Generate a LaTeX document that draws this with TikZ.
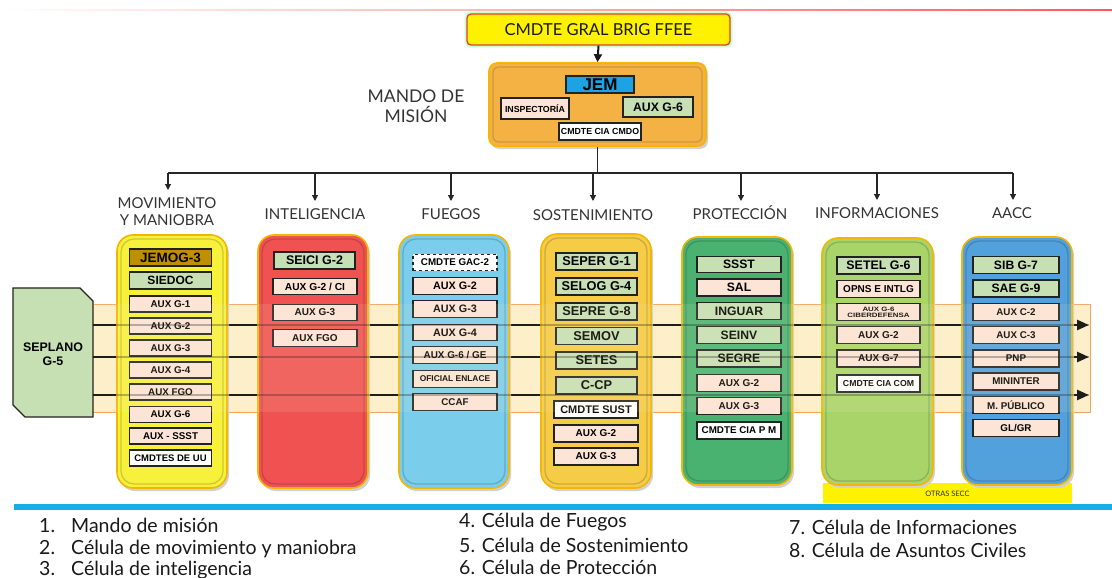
\documentclass[tikz,border=0pt]{standalone}
\usepackage{fontspec}
\setmainfont{Liberation Sans}
\newfontfamily\headfont{Lato}
\newfontfamily\legfont{Lato}
\usetikzlibrary{arrows.meta,shadings}
\definecolor{colborder}{HTML}{F2B705}
\definecolor{cyel}{HTML}{F7F13C}
\definecolor{cred}{HTML}{F05252}
\definecolor{clblue}{HTML}{7ACDEB}
\definecolor{cgold}{HTML}{F6CB45}
\definecolor{cgreen}{HTML}{4AB271}
\definecolor{clgreen}{HTML}{A9D46A}
\definecolor{cblue}{HTML}{52A0DC}
\definecolor{mandofill}{HTML}{F4B244}
\definecolor{gfill}{HTML}{C6E0B4}
\definecolor{pfill}{HTML}{FCE4D6}
\definecolor{jemfill}{HTML}{1BA3E3}
\definecolor{jemogfill}{HTML}{BF8F00}
\definecolor{bandfill}{HTML}{FDEFC9}
\definecolor{bandline}{HTML}{F7A35C}
\definecolor{headcol}{HTML}{333333}
\definecolor{bluebar}{HTML}{17ADE8}
\definecolor{boxline}{HTML}{222222}
\newcommand\fs[1]{\fontsize{#1}{#1}\selectfont\bfseries}
\newcommand\drawcol[5]{%
  \fill[black!18, rounded corners=16pt] (#1+2,#2+3) rectangle (#3+2,#4+3);
  \draw[rounded corners=16pt, draw=colborder, line width=1.6pt, fill=#5] (#1,#2) rectangle (#3,#4);
  \draw[rounded corners=13pt, draw=#5!70!black, line width=1.3pt, opacity=0.55] (#1+4,#2+4) rectangle (#3-4,#4-4);
}
\tikzset{
  bx/.style={draw=boxline, line width=1.1pt, inner sep=0pt, align=center, text=black},
  gb/.style={bx, fill=gfill},
  pb/.style={bx, fill=pfill},
  wb/.style={bx, fill=white},
  head/.style={font=\headfont\fontsize{15}{17}\selectfont, text=headcol, align=center, inner sep=0pt},
  leg/.style={font=\legfont\fontsize{19.5}{21}\selectfont, text=black!90, anchor=west, inner sep=0pt},
  arr/.style={-{Triangle[length=6pt,width=6pt]}, line width=1.1pt, black!85},
  toparr/.style={-{Triangle[length=8pt,width=8pt]}, line width=2pt, black!90},
  bigarr/.style={-{Triangle[length=12pt,width=10pt]}, line width=2.6pt, black},
}
\begin{document}
\begin{tikzpicture}[x=1pt,y=-1pt]
\useasboundingbox (0,0) rectangle (1112,578);
% top line
\shade[left color=white, right color=red!65] (0,9.5) rectangle (1112,11);
% top commander
\draw[rounded corners=4pt, line width=5pt, green!35, opacity=0.6] (467,14) rectangle (730,45);
\node[draw={rgb,255:red,224;green,60;blue,60}, line width=1.3pt, rounded corners=4pt, fill=yellow, minimum width=263pt, minimum height=31pt, inner sep=0pt, text=black!90, font=\headfont\fontsize{16.5}{18}\selectfont] (cmdte) at (598.5,29.5) {CMDTE GRAL BRIG FFEE};
% mando de mision box
\fill[black!18, rounded corners=8pt] (491,66) rectangle (708,149);
\node[draw=colborder, line width=1.6pt, fill=mandofill, rounded corners=8pt, minimum width=217pt, minimum height=83pt, inner sep=0pt] (mando) at (597.5,104.5) {};
\draw[rounded corners=6pt, draw=mandofill!70!black, line width=1.2pt, opacity=0.5] (493,67) rectangle (702,142);
\node[bx, fill=jemfill, minimum width=68pt, minimum height=17pt, font=\fs{17}] (jem) at (600,84.5) {JEM};
\node[pb, minimum width=68pt, minimum height=21pt, font=\fs{8.8}] (insp) at (535,108.5) {INSPECTORÍA};
\node[gb, minimum width=70pt, minimum height=20pt, font=\fs{12.3}] (auxg6m) at (658,107) {AUX G-6};
\node[wb, minimum width=82pt, minimum height=17pt, font=\fs{8.8}] (ciacmdo) at (600,131.5) {CMDTE CIA CMDO};
\node[font=\headfont\fontsize{17.5}{20}\selectfont, text=headcol, align=center, inner sep=0pt] (mdm) at (416,106) {MANDO DE\\MISIÓN};
\draw[toparr] (cmdte.south) -- (mando.north);
% bus
\coordinate (bus) at (597.5,173);
\coordinate (b1) at (168,173);
\coordinate (b2) at (315,173);
\coordinate (b3) at (451,173);
\coordinate (b4) at (593,173);
\coordinate (b5) at (741,173);
\coordinate (b6) at (877,173);
\coordinate (b7) at (1013,173);
\coordinate (e1) at (168,190);
\coordinate (e2) at (315,201);
\coordinate (e3) at (451,201);
\coordinate (e4) at (593,201);
\coordinate (e5) at (741,201);
\coordinate (e6) at (877,200);
\coordinate (e7) at (1013,200);
\draw[line width=1.1pt, black!85] (mando.south) -- (bus);
\draw[line width=1.1pt, black!85] (b1) -- (b7);
\foreach \i in {1,...,7} {\draw[arr] (b\i) -- (e\i);}
% headings
\node[head] (lab1) at (167,211.5) {MOVIMIENTO\\[0pt]Y MANIOBRA};
\node[head] (lab2) at (315,214) {INTELIGENCIA};
\node[head] (lab3) at (451,214.5) {FUEGOS};
\node[head] (lab4) at (593,215) {SOSTENIMIENTO};
\node[head] (lab5) at (740,213) {PROTECCIÓN};
\node[head] (lab6) at (877,213.5) {INFORMACIONES};
\node[head] (lab7) at (1012,213) {AACC};
% band
\draw[fill=bandfill, draw=bandline, line width=0.9pt] (93,304) rectangle (1090,412);
% seplano
\draw[fill=gfill, draw=boxline, line width=1.2pt] (13,288) -- (80,288) -- (93,301) -- (93,417) -- (25,417) -- (13,405) -- cycle;
\node[font=\fs{12.4}, align=center, inner sep=0pt] (seplano) at (53,354) {SEPLANO\\[2pt]G-5};
\coordinate (l1) at (93,325); \coordinate (r1) at (1089,325);
\coordinate (l2) at (93,357); \coordinate (r2) at (1089,357);
\coordinate (l3) at (93,395); \coordinate (r3) at (1089,395);
\foreach \i in {1,2,3} {\draw[bigarr] (l\i) -- (r\i);}
% otras secc
\fill[yellow] (823,483) rectangle (1072,503);
\node[font=\headfont\fontsize{7.5}{8}\selectfont, text=headcol, inner sep=0pt] (otras) at (947.5,494) {OTRAS SECC};
% columns
\drawcol{117}{235}{227}{488}{cyel}
\drawcol{258}{235}{368}{488}{cred}
\drawcol{399}{235}{509}{488}{clblue}
\drawcol{541}{234}{651}{488}{cgold}
\drawcol{682}{237}{792}{485}{cgreen}
\drawcol{822}{238}{933}{485}{clgreen}
\drawcol{962}{237}{1072}{485}{cblue}
% column 1
\begin{scope}[every node/.append style={minimum width=82pt, minimum height=16pt}]
\node[bx, fill=jemogfill, minimum height=17pt, font=\fs{13.5}] (c1a) at (170.5,257.5) {JEMOG-3};
\node[gb, minimum height=17pt, font=\fs{12}] (c1b) at (170.5,280.5) {SIEDOC};
\node[pb, font=\fs{9.8}] (c1c) at (170.5,304) {AUX G-1};
\node[pb, font=\fs{9.8}] (c1d) at (170.5,326) {AUX G-2};
\node[pb, font=\fs{9.8}] (c1e) at (170.5,348) {AUX G-3};
\node[pb, font=\fs{9.8}] (c1f) at (170.5,370) {AUX G-4};
\node[pb, font=\fs{9.8}] (c1g) at (170.5,392) {AUX FGO};
\node[pb, font=\fs{9.8}] (c1h) at (170.5,414.5) {AUX G-6};
\node[pb, font=\fs{9.8}] (c1i) at (170.5,436) {AUX - SSST};
\node[wb, font=\fs{9.5}] (c1j) at (170.5,458) {CMDTES DE UU};
\end{scope}
% column 2
\begin{scope}[every node/.append style={minimum width=84pt, minimum height=16.5pt}]
\node[gb, minimum width=81pt, minimum height=17pt, font=\fs{12.5}] (c2a) at (314.5,260.5) {SEICI G-2};
\node[pb, font=\fs{10.2}] (c2b) at (315,286.5) {AUX G-2 / CI};
\node[pb, font=\fs{10}] (c2c) at (315,312.5) {AUX G-3};
\node[pb, font=\fs{10}] (c2d) at (315,338) {AUX FGO};
\end{scope}
% column 3
\begin{scope}[every node/.append style={minimum width=84pt, minimum height=16.5pt}]
\node[wb, dashed, font=\fs{9.8}] (c3a) at (455,262.5) {CMDTE GAC-2};
\node[pb, font=\fs{10.8}] (c3b) at (455,286) {AUX G-2};
\node[pb, font=\fs{10.8}] (c3c) at (455,309) {AUX G-3};
\node[pb, font=\fs{10.8}] (c3d) at (455,332.5) {AUX G-4};
\node[pb, font=\fs{9.9}] (c3e) at (455,355) {AUX G-6 / GE};
\node[pb, font=\fs{8.4}] (c3f) at (455,379) {OFICIAL ENLACE};
\node[pb, font=\fs{9.8}] (c3g) at (455,402) {CCAF};
\end{scope}
% column 4
\begin{scope}[every node/.append style={minimum width=81pt, minimum height=17pt}]
\node[gb, font=\fs{12.8}] (c4a) at (596.5,261.5) {SEPER G-1};
\node[gb, font=\fs{12.8}] (c4b) at (596.5,286.5) {SELOG G-4};
\node[gb, font=\fs{12.8}] (c4c) at (596.5,311.5) {SEPRE G-8};
\node[gb, font=\fs{12.8}] (c4d) at (596.5,336) {SEMOV};
\node[gb, font=\fs{12.8}] (c4e) at (596.5,360.5) {SETES};
\node[gb, font=\fs{12.8}] (c4f) at (596.5,385.5) {C-CP};
\node[wb, minimum width=84pt, line width=1.8pt, font=\fs{11}] (c4g) at (596,409.5) {CMDTE SUST};
\node[pb, minimum width=84pt, font=\fs{10}] (c4h) at (596,433.5) {AUX G-2};
\node[pb, minimum width=84pt, font=\fs{10}] (c4i) at (596,456.5) {AUX G-3};
\end{scope}
% column 5
\begin{scope}[every node/.append style={minimum width=84pt, minimum height=16.5pt}]
\node[gb, font=\fs{12.2}] (c5a) at (739,264.5) {SSST};
\node[pb, minimum height=17pt, font=\fs{12.2}] (c5b) at (739,287.5) {SAL};
\node[gb, font=\fs{12.2}] (c5c) at (739,311) {INGUAR};
\node[gb, font=\fs{12.2}] (c5d) at (739,335) {SEINV};
\node[gb, minimum height=17pt, font=\fs{12.2}] (c5e) at (739,358.5) {SEGRE};
\node[pb, font=\fs{10}] (c5f) at (739,383) {AUX G-2};
\node[pb, font=\fs{10}] (c5g) at (739,406) {AUX G-3};
\node[wb, minimum height=17pt, font=\fs{9.8}] (c5h) at (739,430.5) {CMDTE CIA P M};
\end{scope}
% column 6
\begin{scope}[every node/.append style={minimum width=83pt, minimum height=16.5pt}]
\node[gb, minimum height=17pt, font=\fs{12.4}] (c6a) at (878.5,265.5) {SETEL G-6};
\node[pb, font=\fs{10}] (c6b) at (878.5,289) {OPNS E INTLG};
\node[pb, font=\fs{6.3}] (c6c) at (878.5,312) {\scalebox{1.25}[1]{AUX G-6}\\\scalebox{1.25}[1]{CIBERDEFENSA}};
\node[pb, font=\fs{10}] (c6d) at (878.5,335) {AUX G-2};
\node[pb, minimum height=17pt, font=\fs{10}] (c6e) at (878.5,358.5) {AUX G-7};
\node[wb, minimum height=17pt, font=\fs{8.7}] (c6f) at (878.5,383.5) {CMDTE CIA COM};
\end{scope}
% column 7
\begin{scope}[every node/.append style={minimum width=86pt, minimum height=16.5pt}]
\node[gb, font=\fs{12.2}] (c7a) at (1016,265) {SIB G-7};
\node[gb, minimum height=17pt, font=\fs{12.2}] (c7b) at (1016,288.5) {SAE G-9};
\node[pb, font=\fs{9.8}] (c7c) at (1016,312) {AUX C-2};
\node[pb, font=\fs{9.8}] (c7d) at (1016,335) {AUX C-3};
\node[pb, minimum height=17pt, font=\fs{9.8}] (c7e) at (1016,358.5) {PNP};
\node[pb, minimum height=17pt, font=\fs{9.8}] (c7f) at (1016,381.5) {MININTER};
\node[pb, font=\fs{9.8}] (c7g) at (1016,405) {M. PÚBLICO};
\node[pb, minimum height=17pt, font=\fs{9.8}] (c7h) at (1016,428) {GL/GR};
\end{scope}
% faint lines through the columns
\foreach \i in {1,2,3} {\draw[line width=2.6pt, black, opacity=0.3] (l\i) -- (r\i);}
\fill[bandfill, opacity=0.12] (93,304) rectangle (1090,412);
% blue bar
\fill[bluebar] (14,504) rectangle (1112,509.5);
% legend
\node[leg] (g1) at (39,525) {\makebox[32pt][l]{1.}Mando de misión};
\node[leg] (g2) at (39,549) {\makebox[32pt][l]{2.}Célula de movimiento y maniobra};
\node[leg] (g3) at (39,570.5) {\makebox[32pt][l]{3.}Célula de inteligencia};
\node[leg] (g4) at (459,522) {4. Célula de Fuegos};
\node[leg] (g5) at (459,545.5) {5. Célula de Sostenimiento};
\node[leg] (g6) at (459,567.5) {6. Célula de Protección};
\node[leg] (g7) at (789,527) {7. Célula de Informaciones};
\node[leg] (g8) at (789,550.5) {8. Célula de Asuntos Civiles};
\end{tikzpicture}
\end{document}
